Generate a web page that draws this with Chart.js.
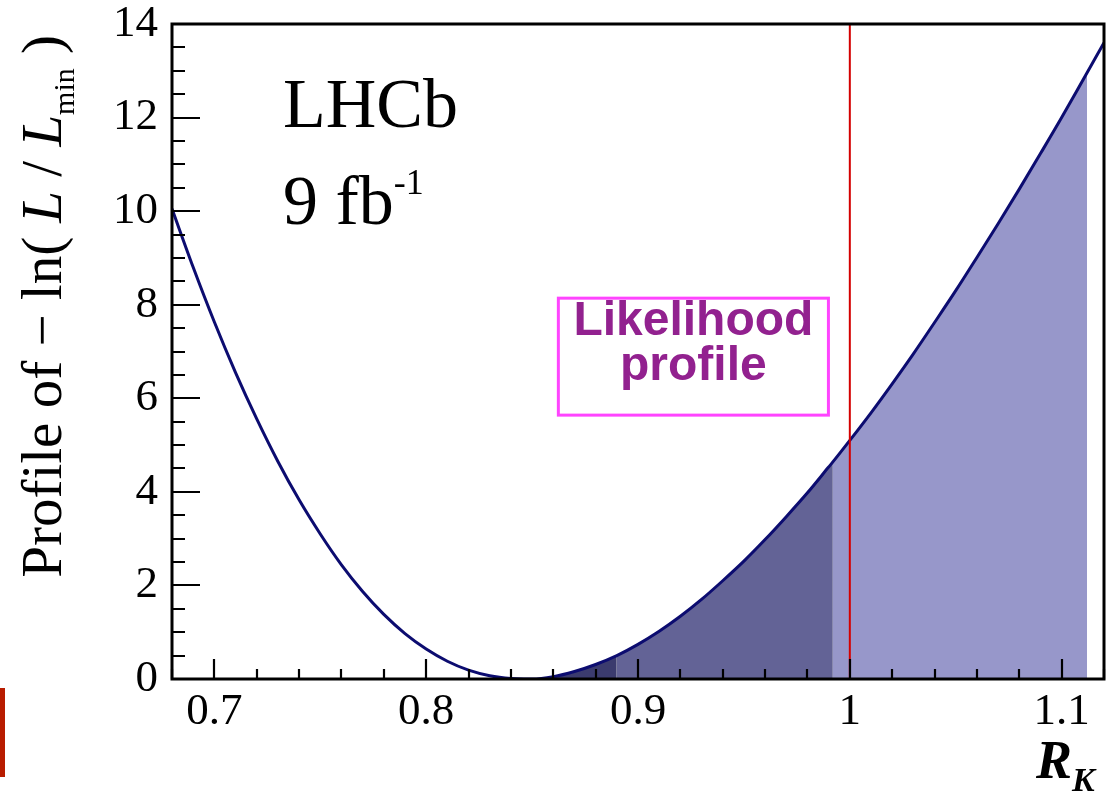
<!DOCTYPE html>
<html>
<head>
<meta charset="utf-8">
<title>R_K likelihood profile</title>
<script src="https://cdn.jsdelivr.net/npm/chart.js@4.4.1/dist/chart.umd.min.js"></script>
<style>
  html, body { margin: 0; padding: 0; background: #fff; }
  #wrap { position: relative; width: 1120px; height: 795px; }
  #edge { position: absolute; left: 0; top: 688px; width: 5px; height: 89px; background: #b81c00; }
</style>
</head>
<body>
<div id="wrap">
  <canvas id="profileChart" width="1120" height="795"></canvas>
  <div id="edge"></div>
</div>
<script>
// values
const rkValues = [
  0.68, 0.69, 0.70, 0.71, 0.72, 0.73, 0.74, 0.75, 0.76, 0.77, 0.78, 0.79,
  0.80, 0.81, 0.82, 0.83, 0.84, 0.846, 0.85, 0.86, 0.87, 0.88, 0.89,
  0.90, 0.91, 0.92, 0.93, 0.94, 0.95, 0.96, 0.97, 0.98, 0.99, 0.992,
  1.00, 1.01, 1.02, 1.03, 1.04, 1.05, 1.06, 1.07, 1.08, 1.09, 1.10, 1.11, 1.112, 1.12
];
const nllValues = [
  10.05, 8.80, 7.63, 6.55, 5.56, 4.65, 3.83, 3.10, 2.44, 1.87, 1.38, 0.97,
  0.64, 0.38, 0.19, 0.07, 0.01, 0.00, 0.00, 0.05, 0.16, 0.31, 0.50,
  0.74, 1.02, 1.34, 1.70, 2.10, 2.52, 2.98, 3.47, 3.98, 4.53, 4.64,
  5.10, 5.69, 6.31, 6.95, 7.62, 8.30, 9.01, 9.73, 10.47, 11.23, 12.00, 12.80, 12.96, 13.60
];
const bandStarts = [0.846, 0.89, 0.992];
const bandEnds = [0.89, 0.992, 1.112];
const bandColors = ["#3b3b6e", "#636396", "#9797ca"];
const xTickValues = [0.7, 0.8, 0.9, 1.0, 1.1];
const yTickValues = [0, 2, 4, 6, 8, 10, 12, 14];
const smValue = 1.0; // SM expectation

const X_MIN = 0.68, X_MAX = 1.12, Y_MIN = 0, Y_MAX = 14;
const serif = '"Liberation Serif", "Times New Roman", serif';
const sans = '"Liberation Sans", Arial, sans-serif';

const curvePoints = rkValues.map((x, i) => ({ x: x, y: nllValues[i] }));

function bandPoints(lo, hi) {
  return curvePoints.filter((p) => p.x >= lo - 1e-9 && p.x <= hi + 1e-9);
}

const datasets = [];
bandStarts.forEach((lo, i) => {
  datasets.push({
    data: bandPoints(lo, bandEnds[i]),
    backgroundColor: bandColors[i],
    borderColor: "rgba(0,0,0,0)",
    borderWidth: 0,
    pointRadius: 0,
    fill: "origin",
    cubicInterpolationMode: "monotone",
    order: 3,
  });
});
datasets.push({
  data: curvePoints,
  borderColor: "#0c0c70",
  borderWidth: 3,
  pointRadius: 0,
  fill: false,
  cubicInterpolationMode: "monotone",
  order: 2,
});
datasets.push({
  data: [{ x: smValue, y: Y_MIN }, { x: smValue, y: Y_MAX }],
  borderColor: "#d40000",
  borderWidth: 2,
  pointRadius: 0,
  fill: false,
  order: 1,
});

// inward ticks (ROOT style) + frame
const frameAndTicks = {
  id: "frameAndTicks",
  afterDatasetsDraw(chart) {
    const { ctx, chartArea: a, scales } = chart;
    const xs = scales.x, ys = scales.y;
    ctx.save();
    ctx.strokeStyle = "#000";
    ctx.lineWidth = 2.2;
    ctx.beginPath();
    for (let k = 34; k <= 56; k++) {
      const px = Math.round(xs.getPixelForValue(k * 0.02));
      const len = k % 5 === 0 ? 20 : 10;
      ctx.moveTo(px, a.bottom);
      ctx.lineTo(px, a.bottom - len);
    }
    for (let k = 0; k <= 28; k++) {
      const py = Math.round(ys.getPixelForValue(k * 0.5));
      const len = k % 4 === 0 ? 28 : 13;
      ctx.moveTo(a.left, py);
      ctx.lineTo(a.left + len, py);
    }
    ctx.stroke();
    ctx.lineWidth = 3;
    ctx.strokeRect(a.left, a.top, a.right - a.left, a.bottom - a.top);
    ctx.restore();
  },
};

function drawPieces(ctx, pieces, x0, y0) {
  let x = x0;
  pieces.forEach((p) => {
    ctx.font = p.font;
    ctx.fillText(p.text, x, y0 + (p.dy || 0));
    x += ctx.measureText(p.text).width;
  });
}

function piecesWidth(ctx, pieces) {
  let w = 0;
  pieces.forEach((p) => {
    ctx.font = p.font;
    w += ctx.measureText(p.text).width;
  });
  return w;
}

const labels = {
  id: "labels",
  afterDraw(chart) {
    const { ctx, chartArea: a, scales } = chart;
    const xs = scales.x, ys = scales.y;
    ctx.save();
    ctx.fillStyle = "#000";
    ctx.textAlign = "left";
    ctx.textBaseline = "alphabetic";

    // LHCb, 9 fb^-1
    const lx = xs.getPixelForValue(0.7324);
    ctx.font = "70px " + serif;
    ctx.fillText("LHCb", lx, ys.getPixelForValue(11.8));
    drawPieces(ctx, [
      { text: "9 fb", font: "70px " + serif },
      { text: "-1", font: "36px " + serif, dy: -30 },
    ], lx, ys.getPixelForValue(9.73));

    // Likelihood profile box
    const bx0 = xs.getPixelForValue(0.8624), bx1 = xs.getPixelForValue(0.9899);
    const by0 = ys.getPixelForValue(8.14), by1 = ys.getPixelForValue(5.64);
    ctx.strokeStyle = "#ff44ff";
    ctx.lineWidth = 3;
    ctx.strokeRect(bx0, by0, bx1 - bx0, by1 - by0);
    ctx.fillStyle = "#92218f";
    ctx.font = "bold 48px " + sans;
    ctx.textAlign = "center";
    ctx.fillText("Likelihood", (bx0 + bx1) / 2, ys.getPixelForValue(7.35));
    ctx.fillText("profile", (bx0 + bx1) / 2, ys.getPixelForValue(6.39));

    // y axis title
    ctx.fillStyle = "#000";
    ctx.textAlign = "left";
    const yTitle = [
      { text: "Profile of \u2212 ln( ", font: "57px " + serif },
      { text: "L", font: "italic 57px " + serif },
      { text: " / ", font: "57px " + serif },
      { text: "L", font: "italic 57px " + serif },
      { text: "min", font: "30px " + serif, dy: 13 },
      { text: " )", font: "57px " + serif },
    ];
    const tw = piecesWidth(ctx, yTitle);
    ctx.save();
    ctx.translate(61, 35 + tw);
    ctx.rotate(-Math.PI / 2);
    drawPieces(ctx, yTitle, 0, 0);
    ctx.restore();

    // x axis title
    drawPieces(ctx, [
      { text: "R", font: "italic bold 54px " + serif },
      { text: "K", font: "italic bold 34px " + serif, dy: 13 },
    ], 1036, 778);
    ctx.restore();
  },
};

new Chart(document.getElementById("profileChart"), {
  type: "line",
  data: { datasets: datasets },
  plugins: [frameAndTicks, labels],
  options: {
    responsive: false,
    animation: false,
    layout: { padding: { top: 24, right: 16, left: 0, bottom: 0 } },
    plugins: { legend: { display: false }, tooltip: { enabled: false } },
    elements: { line: { tension: 0.4 } },
    scales: {
      x: {
        type: "linear",
        min: X_MIN,
        max: X_MAX,
        grid: { display: false, drawTicks: false },
        border: { display: false },
        afterBuildTicks: (s) => { s.ticks = xTickValues.map((v) => ({ value: v })); },
        afterFit: (s) => { s.height = 116; s.paddingLeft = 0; s.paddingRight = 0; },
        ticks: {
          autoSkip: false,
          maxRotation: 0,
          minRotation: 0,
          padding: 6,
          color: "#000",
          font: { family: serif, size: 45 },
          callback: (v) => String(Number(v.toFixed(2))),
        },
      },
      y: {
        type: "linear",
        min: Y_MIN,
        max: Y_MAX,
        grid: { display: false, drawTicks: false },
        border: { display: false },
        afterBuildTicks: (s) => { s.ticks = yTickValues.map((v) => ({ value: v })); },
        afterFit: (s) => { s.width = 172; s.paddingTop = 0; s.paddingBottom = 0; },
        ticks: {
          padding: 14,
          color: "#000",
          font: { family: serif, size: 45 },
        },
      },
    },
  },
});
</script>
</body>
</html>
